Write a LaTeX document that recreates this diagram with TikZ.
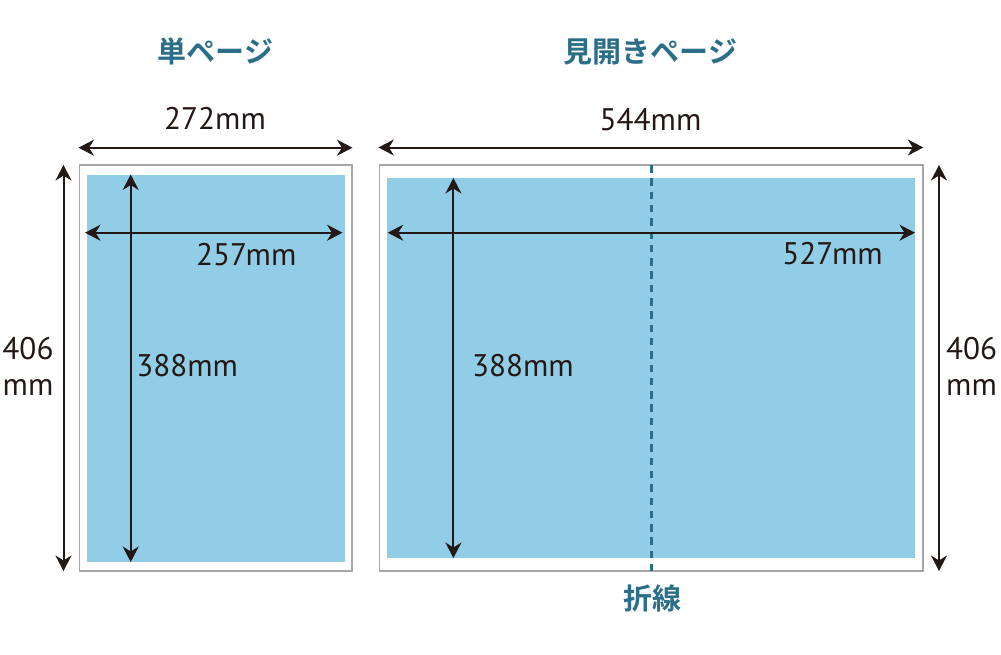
\documentclass[tikz,border=0pt]{standalone}
\usepackage{fontspec}
\setmainfont{PT Sans}
\newfontfamily\cjk{Noto Sans CJK JP}[BoldFont={Noto Sans CJK JP Bold}]
\usetikzlibrary{arrows.meta}
\definecolor{sheetblue}{HTML}{91CDE6}
\definecolor{edgegray}{HTML}{A7A7A7}
\definecolor{inkdark}{HTML}{231815}
\definecolor{teal}{HTML}{2A6E88}
\tikzset{
  outerpage/.style={draw=edgegray, line width=1.5pt, fill=white, inner sep=0pt, outer sep=0pt},
  innerpage/.style={fill=sheetblue, inner sep=0pt, outer sep=0pt},
  dimarrow/.style={draw=inkdark, line width=2pt, {Stealth[length=15.5pt,width=16pt,inset=5pt]}-{Stealth[length=15.5pt,width=16pt,inset=5pt]}},
  dimlabel/.style={text=inkdark, font=\fontsize{31.2}{34}\selectfont, inner sep=0pt},
  titlelabel/.style={text=teal, font=\cjk\bfseries\fontsize{29}{32}\selectfont, inner sep=0pt, anchor=base},
  foldline/.style={draw=teal, line width=3pt, dash pattern=on 7.5pt off 5.8pt}
}
\begin{document}
\begin{tikzpicture}[x=1pt,y=-1pt]
\useasboundingbox (0,0) rectangle (1001,654);
\fill[white] (0,0) rectangle (1001,654);
% pages
\node[outerpage, minimum width=272.5pt, minimum height=406pt] (spOuter) at (215.75,368) {};
\node[innerpage, minimum width=258pt, minimum height=387.5pt] (spInner) at (216,368.25) {};
\node[outerpage, minimum width=543.5pt, minimum height=406pt] (dpOuter) at (651.25,368) {};
\node[innerpage, minimum width=527.5pt, minimum height=380pt] (dpInner) at (651,368.3) {};
% fold line
\coordinate (foldTop) at (651,165);
\coordinate (foldBot) at (651,571);
\draw[foldline] (foldTop) -- (foldBot);
% coordinates for dimension arrows
\coordinate (a1) at (78.5,147.7);  \coordinate (a2) at (352.5,147.7);
\coordinate (b1) at (63.5,165);    \coordinate (b2) at (63.5,571);
\coordinate (c1) at (85,232.7);    \coordinate (c2) at (342.5,232.7);
\coordinate (d1) at (130.7,174.5); \coordinate (d2) at (130.7,562);
\coordinate (e1) at (378.4,147.5); \coordinate (e2) at (923.3,147.5);
\coordinate (f1) at (387.7,232.7); \coordinate (f2) at (915,232.7);
\coordinate (g1) at (453.4,178);   \coordinate (g2) at (453.4,558);
\coordinate (h1) at (939,165);     \coordinate (h2) at (939,571);
\draw[dimarrow] (a1) -- (a2);
\draw[dimarrow] (b1) -- (b2);
\draw[dimarrow] (c1) -- (c2);
\draw[dimarrow] (d1) -- (d2);
\draw[dimarrow] (e1) -- (e2);
\draw[dimarrow] (f1) -- (f2);
\draw[dimarrow] (g1) -- (g2);
\draw[dimarrow] (h1) -- (h2);
% labels
\node[dimlabel, anchor=base] (l272) at (215,129.3) {272mm};
\node[dimlabel, anchor=base] (l544) at (650.5,130) {544mm};
\node[dimlabel, anchor=base] (l257) at (246.2,265) {257mm};
\node[dimlabel, anchor=base] (l527) at (832.5,264) {527mm};
\node[dimlabel, anchor=base west] (l388a) at (136.2,376) {388mm};
\node[dimlabel, anchor=base west] (l388b) at (471.8,376) {388mm};
\node[dimlabel, anchor=base] (l406a) at (28,359) {406};
\node[dimlabel, anchor=base] (l406am) at (28,395) {mm};
\node[dimlabel, anchor=base] (l406b) at (971.5,359) {406};
\node[dimlabel, anchor=base] (l406bm) at (971.5,395) {mm};
% titles
\node[titlelabel] (tSingle) at (215.7,62) {単ページ};
\node[titlelabel] (tSpread) at (650.5,62) {見開きページ};
\node[titlelabel] (tFold) at (652,609) {折線};
\end{tikzpicture}
\end{document}
